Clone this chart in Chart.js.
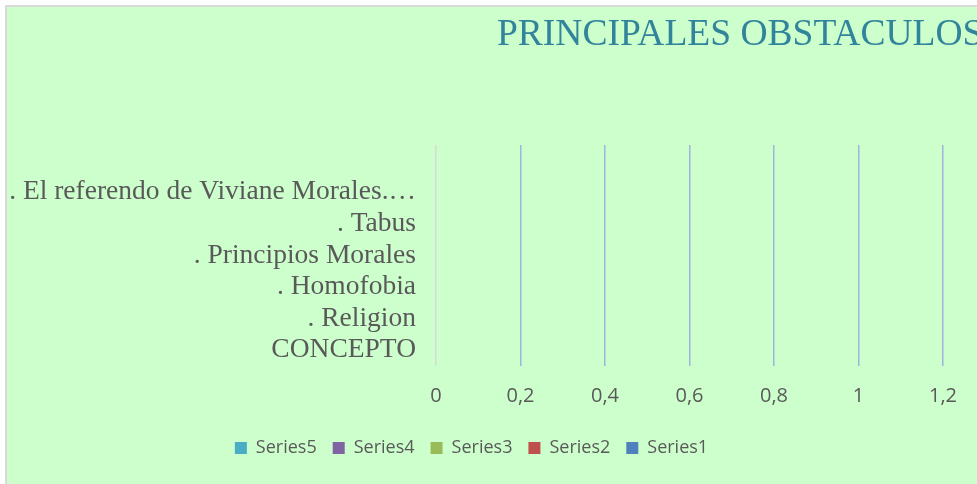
<!DOCTYPE html>
<html>
<head>
<meta charset="utf-8">
<script src="https://cdn.jsdelivr.net/npm/chart.js@4"></script>
<style>
    html, body { margin: 0; padding: 0; background: #fff; overflow: hidden; }
    #frame { position: absolute; left: 5px; top: 5px; width: 1000px; height: 500px; background: #ccffcc; border: 2px solid #d9d9d9; }
    #wrap { position: absolute; left: 0; top: 0; width: 977px; height: 484px; }
</style>
</head>
<body>
<div id="frame"></div>
<div id="wrap"><canvas id="chart"></canvas></div>
<script>
const chartTitle = 'PRINCIPALES OBSTACULOS';
// Excel order: first category sits at the bottom
const categories = ['CONCEPTO', '. Religion', '. Homofobia', '. Principios Morales', '. Tabus', '. El referendo de Viviane Morales.…'];
const seriesNames = ['Series1', 'Series2', 'Series3', 'Series4', 'Series5'];
const series1 = [0, 0, 0, 0, 0, 0];
const series2 = [0, 0, 0, 0, 0, 0];
const series3 = [0, 0, 0, 0, 0, 0];
const series4 = [0, 0, 0, 0, 0, 0];
const series5 = [0, 0, 0, 0, 0, 0];
const seriesColors = ['#4f81bd', '#c0504d', '#9bbb59', '#8064a2', '#4bacc6'];
const xTickLabels = ['0', '0,2', '0,4', '0,6', '0,8', '1', '1,2'];

const titleText = {
    id: 'titleText',
    afterDraw(chart) {
        const ctx = chart.ctx;
        ctx.save();
        ctx.font = '37.5px "Liberation Serif"';
        ctx.fillStyle = '#31849b';
        ctx.textBaseline = 'alphabetic';
        ctx.fillText(chartTitle, 497, 45);
        ctx.restore();
    }
};

const allSeries = [series1, series2, series3, series4, series5];

new Chart(document.getElementById('chart'), {
    type: 'bar',
    data: {
        labels: categories,
        datasets: allSeries.map((d, i) => ({
            label: seriesNames[i],
            data: d,
            backgroundColor: seriesColors[i],
            borderWidth: 0
        }))
    },
    plugins: [titleText],
    options: {
        indexAxis: 'y',
        responsive: true,
        maintainAspectRatio: false,
        animation: false,
        layout: {
            padding: { top: 145, right: 34, bottom: 17, left: 0 }
        },
        plugins: {
            title: { display: false },
            tooltip: { enabled: false },
            legend: {
                position: 'bottom',
                reverse: true,
                labels: {
                    boxWidth: 12,
                    boxHeight: 12,
                    padding: 16,
                    color: '#595959',
                    font: { family: '"Open Sans"', size: 18 }
                }
            }
        },
        scales: {
            x: {
                min: 0,
                max: 1.2,
                ticks: {
                    stepSize: 0.2,
                    padding: 18,
                    color: '#595959',
                    font: { family: '"Open Sans"', size: 20 },
                    callback: (v, i) => xTickLabels[i]
                },
                grid: {
                    drawTicks: false,
                    color: ctx => ctx.tick && ctx.tick.value === 0 ? '#d9d9d9' : '#9db4dc',
                    lineWidth: 1.5
                },
                border: { display: false },
                afterFit: scale => { scale.height = 57; }
            },
            y: {
                reverse: true,
                stack: 'left',
                stackWeight: 187,
                ticks: {
                    padding: 20,
                    autoSkip: false,
                    color: '#595959',
                    font: { family: '"Liberation Serif"', size: 27.5 }
                },
                grid: { display: false, drawTicks: false },
                border: { display: false },
                afterFit: scale => { scale.width = 436; }
            },
            // empty band above the categories, as in the original plot area
            yTop: {
                type: 'linear',
                position: 'left',
                stack: 'left',
                stackWeight: 31,
                display: false
            }
        }
    }
});
</script>
</body>
</html>
